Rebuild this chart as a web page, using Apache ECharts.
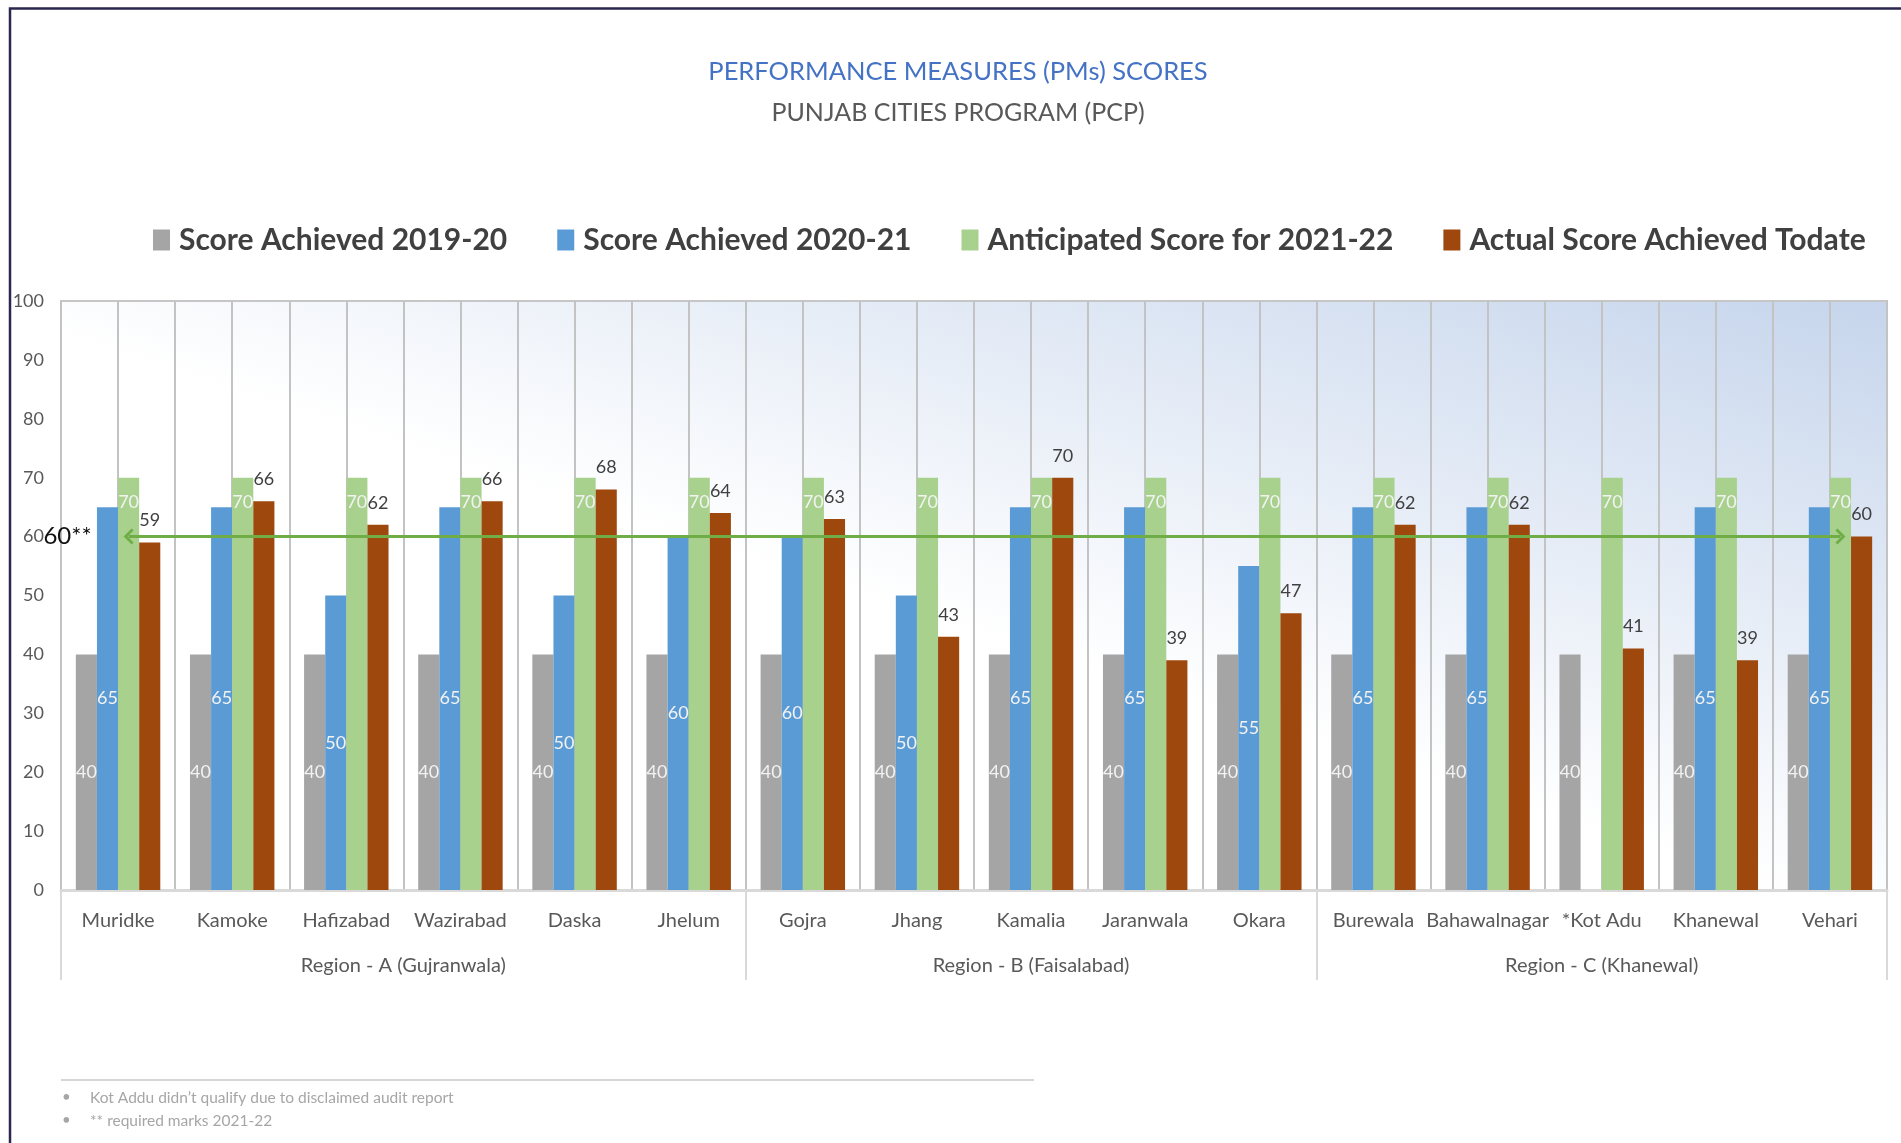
<!DOCTYPE html>
<html>
<head>
<meta charset="utf-8">
<title>Performance Measures (PMs) Scores</title>
<script src="https://cdn.jsdelivr.net/npm/echarts@6/dist/echarts.min.js"></script>
<style>
  html, body { margin: 0; padding: 0; background: #fff; }
  #chart { width: 1901px; height: 1143px; }
</style>
</head>
<body>
<div id="chart"></div>
<script>
// 城市 (x轴)
var cities = ['Muridke', 'Kamoke', 'Hafizabad', 'Wazirabad', 'Daska', 'Jhelum',
  'Gojra', 'Jhang', 'Kamalia', 'Jaranwala', 'Okara',
  'Burewala', 'Bahawalnagar', '*Kot Adu', 'Khanewal', 'Vehari'];

// 分区
var regionNames = ['Region - A (Gujranwala)', 'Region - B (Faisalabad)', 'Region - C (Khanewal)'];
var regionSizes = [6, 5, 5];

// 系列名
var seriesNames = ['Score Achieved 2019-20', 'Score Achieved 2020-21',
  'Anticipated Score for 2021-22', 'Actual Score Achieved Todate'];

// 数据
var score1920 = [40, 40, 40, 40, 40, 40, 40, 40, 40, 40, 40, 40, 40, 40, 40, 40];
var score2021 = [65, 65, 50, 65, 50, 60, 60, 50, 65, 65, 55, 65, 65, null, 65, 65];
var anticipated2122 = [70, 70, 70, 70, 70, 70, 70, 70, 70, 70, 70, 70, 70, 70, 70, 70];
var actualTodate = [59, 66, 62, 66, 68, 64, 63, 43, 70, 39, 47, 62, 62, 41, 39, 60];

// 要求分数
var requiredMark = 60;
var requiredLabel = '60**';

// y轴
var yMin = 0;
var yMax = 100;
var yStep = 10;

// 脚注
var notes = ['Kot Addu didn\u2019t qualify due to disclaimed audit report', '** required marks 2021-22'];

var FONT = "Lato, 'Noto Sans', sans-serif";
var colors = ['#a5a5a5', '#5b9bd5', '#a9d18e', '#9e480e'];

// 绘图区位置
var GRID_LEFT = 61, GRID_RIGHT = 14, GRID_TOP = 301, GRID_BOTTOM = 253;
var W = 1901 - GRID_LEFT - GRID_RIGHT;
var H = 1143 - GRID_TOP - GRID_BOTTOM;

/**
 * 分区轴: 每个城市两个半格, 标签放在分区中间, 刻度放在分区边界
 */
var halfSlots = cities.length * 2;
var regionAxisData = [];
for (var i = 0; i <= halfSlots; i++) {
  regionAxisData.push('');
}
var regionEdges = [0];
var start = 0;
regionSizes.forEach(function (n, idx) {
  regionAxisData[start * 2 + n] = regionNames[idx];
  start += n;
  regionEdges.push(start * 2);
});

// 中线用的轴 (每个城市两格)
var halfAxisData = [];
for (var j = 0; j < halfSlots; j++) {
  halfAxisData.push('');
}

// 背景渐变: 左下白 -> 右上浅蓝, 等色线沿左上-右下对角线
var k = 2 * W * H / (W * W + H * H);
var bgGradient = {
  type: 'linear',
  global: true,
  x: GRID_LEFT,
  y: GRID_TOP + H,
  x2: GRID_LEFT + H * k,
  y2: GRID_TOP + H - W * k,
  colorStops: [
    { offset: 0, color: '#ffffff' },
    { offset: 0.47, color: '#ffffff' },
    { offset: 1, color: '#c6d5ec' }
  ]
};

var chart = echarts.init(document.getElementById('chart'), null, { renderer: 'canvas' });

var barLabel = {
  show: true,
  position: 'inside',
  color: '#f2f2f2',
  fontSize: 18,
  fontFamily: FONT
};

var arrowPath = 'path://M10,0 L20,10 L17.5,12.5 L10,5 L2.5,12.5 L0,10 Z';

var option = {
  animation: false,
  backgroundColor: '#ffffff',
  textStyle: { fontFamily: FONT },
  color: colors,
  title: {
    text: 'PERFORMANCE MEASURES (PMs) SCORES',
    subtext: 'PUNJAB CITIES PROGRAM (PCP)',
    left: 958,
    textAlign: 'center',
    top: 54.5,
    padding: 0,
    itemGap: 9.5,
    textStyle: {
      color: '#4472c4',
      fontSize: 25.5,
      fontWeight: 'normal',
      lineHeight: 34,
      fontFamily: FONT
    },
    subtextStyle: {
      color: '#595959',
      fontSize: 25,
      lineHeight: 30,
      fontFamily: FONT
    }
  },
  legend: {
    left: 153,
    top: 223,
    padding: 0,
    itemGap: 50,
    itemWidth: 17,
    itemHeight: 21,
    icon: 'rect',
    selectedMode: false,
    data: seriesNames,
    textStyle: {
      color: '#404040',
      fontSize: 30,
      fontWeight: 'bold',
      lineHeight: 34,
      padding: [0, 0, 0, 4],
      fontFamily: FONT
    }
  },
  grid: {
    left: GRID_LEFT,
    right: GRID_RIGHT,
    top: GRID_TOP,
    bottom: GRID_BOTTOM,
    containLabel: false,
    outerBoundsMode: 'none',
    show: true,
    borderColor: '#c6c6c6',
    borderWidth: 2,
    backgroundColor: bgGradient
  },
  xAxis: [
    {
      type: 'category',
      data: cities,
      position: 'bottom',
      axisLine: { show: true, lineStyle: { color: '#d9d9d9', width: 3 } },
      axisTick: { show: false },
      axisLabel: {
        interval: 0,
        margin: 21,
        color: '#595959',
        fontSize: 20,
        fontFamily: FONT
      },
      splitLine: { show: true, interval: 0, lineStyle: { color: '#c3c3c3', width: 2 } }
    },
    {
      // 每个城市中间的竖线
      type: 'category',
      data: halfAxisData,
      position: 'bottom',
      axisLine: { show: false },
      axisTick: { show: false },
      axisLabel: { show: false },
      splitLine: { show: true, interval: 0, lineStyle: { color: '#c3c3c3', width: 2 } }
    },
    {
      // 分区标签
      type: 'category',
      data: regionAxisData,
      boundaryGap: false,
      position: 'bottom',
      axisLine: { show: false },
      axisTick: {
        show: true,
        length: 90,
        interval: function (index) {
          return regionEdges.indexOf(index) >= 0;
        },
        lineStyle: { color: '#d9d9d9', width: 2 }
      },
      axisLabel: {
        interval: 0,
        margin: 66,
        color: '#595959',
        fontSize: 20,
        fontFamily: FONT
      },
      splitLine: { show: false }
    }
  ],
  yAxis: {
    type: 'value',
    min: yMin,
    max: yMax,
    interval: yStep,
    axisLine: { show: false },
    axisTick: { show: false },
    splitLine: { show: false },
    axisLabel: {
      margin: 17,
      color: '#595959',
      fontSize: 18,
      fontFamily: FONT
    }
  },
  series: [
    {
      name: seriesNames[0],
      type: 'bar',
      data: score1920,
      barGap: '0%',
      barCategoryGap: '26%',
      label: barLabel,
      emphasis: { disabled: true }
    },
    {
      name: seriesNames[1],
      type: 'bar',
      data: score2021,
      barGap: '0%',
      barCategoryGap: '26%',
      label: barLabel,
      emphasis: { disabled: true }
    },
    {
      name: seriesNames[2],
      type: 'bar',
      data: anticipated2122,
      barGap: '0%',
      barCategoryGap: '26%',
      label: {
        show: true,
        position: 'insideTop',
        distance: 15,
        color: '#f2f2f2',
        fontSize: 18,
        fontFamily: FONT
      },
      emphasis: { disabled: true },
      // 要求分数线 (两端箭头)
      markLine: {
        silent: true,
        symbol: [arrowPath, arrowPath],
        symbolSize: [16, 10],
        lineStyle: { color: '#70ad47', width: 3, type: 'solid' },
        label: {
          show: true,
          position: 'start',
          distance: 37,
          formatter: requiredLabel,
          color: '#111111',
          fontSize: 24,
          fontFamily: FONT
        },
        data: [
          [
            { coord: [cities[0], requiredMark] },
            { coord: [cities[cities.length - 1], requiredMark] }
          ]
        ]
      }
    },
    {
      name: seriesNames[3],
      type: 'bar',
      data: actualTodate,
      barGap: '0%',
      barCategoryGap: '26%',
      label: {
        show: true,
        position: 'top',
        distance: 13,
        color: '#404040',
        fontSize: 18,
        fontFamily: FONT
      },
      emphasis: { disabled: true }
    }
  ],
  graphic: [
    {
      // 外框
      type: 'rect',
      silent: true,
      shape: { x: 10, y: 8.5, width: 2000, height: 1300 },
      style: { fill: 'none', stroke: '#2a2750', lineWidth: 2.5 }
    },
    {
      type: 'line',
      silent: true,
      shape: { x1: 61, y1: 1080, x2: 1034, y2: 1080 },
      style: { stroke: '#c8c8c8', lineWidth: 1.5 }
    },
    {
      type: 'group',
      left: 62,
      top: 1090,
      children: notes.map(function (t, n) {
        return {
          type: 'group',
          children: [
            {
              type: 'text',
              style: { text: '\u2022', x: 0, y: n * 23, fill: '#a6a6a6', font: '15px ' + FONT }
            },
            {
              type: 'text',
              style: { text: t, x: 28, y: n * 23, fill: '#a6a6a6', font: '15.5px ' + FONT }
            }
          ]
        };
      })
    }
  ]
};

chart.setOption(option);
</script>
</body>
</html>
